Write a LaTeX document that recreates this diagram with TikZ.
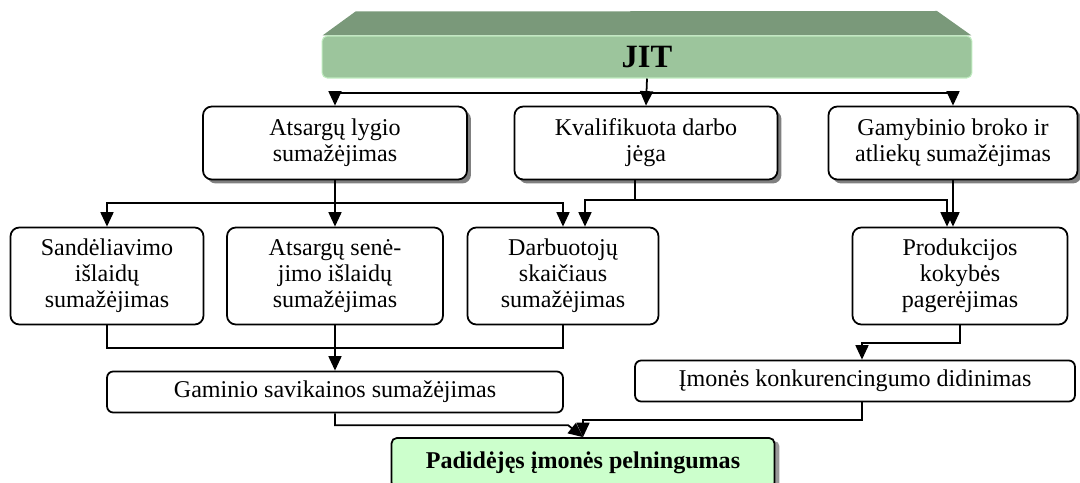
\documentclass[tikz,border=0pt]{standalone}
\usepackage{fontspec}
\setmainfont{Liberation Serif}
\usepackage{tikz}
\usetikzlibrary{positioning,backgrounds,shadows,arrows.meta}
\definecolor{jitfront}{RGB}{156,197,156}
\definecolor{jittop}{RGB}{122,153,122}
\definecolor{jitedge}{RGB}{190,235,190}
\definecolor{goalfill}{RGB}{204,255,204}
\tikzset{
  jitbox/.style ={rectangle, rounded corners=3pt, fill=jitfront, draw=jitedge, line width=0.6pt,
                  minimum width=13cm, minimum height=0.84cm, inner sep=0pt,
                  font=\fontsize{18.5}{20}\selectfont\bfseries},
  lvlone/.style ={rectangle, rounded corners=5pt, draw=black, fill=white, line width=1pt, align=center,
                  minimum height=1.46cm, inner sep=2pt, font=\fontsize{13.7}{14.8}\selectfont,
                  drop shadow={shadow xshift=0.08cm, shadow yshift=-0.08cm, fill=black!50, opacity=1}},
  lvltwo/.style ={rectangle, rounded corners=5pt, draw=black, fill=white, line width=1pt, align=center,
                  minimum height=1.94cm, inner sep=2pt, font=\fontsize{13.7}{14.8}\selectfont},
  lvlthree/.style={rectangle, rounded corners=3.5pt, draw=black, fill=white, line width=1pt, align=center,
                  minimum height=0.82cm, inner sep=2pt, font=\fontsize{13.7}{14.8}\selectfont},
  goal/.style    ={rectangle, rounded corners=3pt, draw=black, fill=goalfill, line width=1pt, align=center,
                  minimum height=1.0cm, inner sep=2pt, font=\fontsize{13.7}{14.8}\selectfont\bfseries,
                  drop shadow={shadow xshift=0.1cm, shadow yshift=-0.06cm, fill=black!40, opacity=1}},
  link/.style    ={draw=black, line width=1pt},
  flow/.style    ={-{Triangle[length=2.9mm,width=2.6mm]}, draw=black, line width=1pt},
}
\begin{document}
\begin{tikzpicture}[x=0.02cm,y=-0.02cm]
\useasboundingbox (0,0) rectangle (1080,483);
% --- JIT ---
\node[jitbox] (jit) at (647,57) {JIT};
\begin{scope}[on background layer]
\fill[jittop] ([xshift=0.02cm]jit.north west) -- ++(33,-24) -- (937,11) -- ([xshift=-0.02cm]jit.north east) -- cycle;
\end{scope}
% --- first level ---
\node[lvlone, minimum width=5.28cm] (lygis)  at (335,143) {Atsargų lygio\\sumažėjimas};
\node[lvlone, minimum width=5.26cm] (jega)   at (646,143) {Kvalifikuota darbo\\jėga};
\node[lvlone, minimum width=4.98cm] (brokas) at (953,143) {Gamybinio broko ir\\atliekų sumažėjimas};
% --- second level ---
\node[lvltwo, minimum width=3.86cm] (sandel)    at (107,276) {Sandėliavimo\\išlaidų\\sumažėjimas};
\node[lvltwo, minimum width=4.32cm] (senejimas) at (335,276) {Atsargų senė-\\jimo išlaidų\\sumažėjimas};
\node[lvltwo, minimum width=3.82cm] (darbuot)   at (563,276) {Darbuotojų\\skaičiaus\\sumažėjimas};
\node[lvltwo, minimum width=4.30cm] (kokybe)    at (960,276) {Produkcijos\\kokybės\\pagerėjimas};
% --- third level ---
\node[lvlthree, minimum width=9.12cm] (savik)  at (335,392) {Gaminio savikainos sumažėjimas};
\node[lvlthree, minimum width=8.80cm] (konkur) at (855,381) {Įmonės konkurencingumo didinimas};
% --- result ---
\node[goal, minimum width=7.66cm] (pelning) at (583,463) {Padidėjęs įmonės pelningumas};
% JIT -> first level
\coordinate (busjit) at (646,93);
\draw[flow] (jit.south) -- (jega.north);
\draw[flow] (busjit) -| (lygis.north);
\draw[flow] (busjit) -| (brokas.north);
% first level -> second level
\coordinate (buslyg) at (335,203);
\draw[flow] (lygis.south) -- (senejimas.north);
\draw[flow] (buslyg) -| (sandel.north);
\draw[flow] (buslyg) -| (darbuot.north);
\draw[flow] ([xshift=-0.22cm]jega.south) -- ++(0,20) -| ([xshift=0.44cm]darbuot.north);
\draw[flow] ([xshift=-0.22cm]jega.south) -- ++(0,20) -| ([xshift=-0.26cm]kokybe.north);
\draw[flow] (brokas.south) -- (brokas.south |- kokybe.north);
% second level -> third level
\coordinate (bussav) at (335,348);
\draw[link] (sandel.south) |- (bussav);
\draw[link] (darbuot.south) |- (bussav);
\draw[flow] (senejimas.south) -- (savik.north);
\draw[flow] (kokybe.south) -- ++(0,18) -| ([xshift=0.14cm]konkur.north);
% third level -> result
\draw[flow] (savik.south) |- ([xshift=-0.3cm,yshift=0.24cm]pelning.north) -- (pelning.north);
\draw[flow] ([xshift=0.14cm]konkur.south) -- ++(0,18) -| (pelning.north);
\end{tikzpicture}
\end{document}
